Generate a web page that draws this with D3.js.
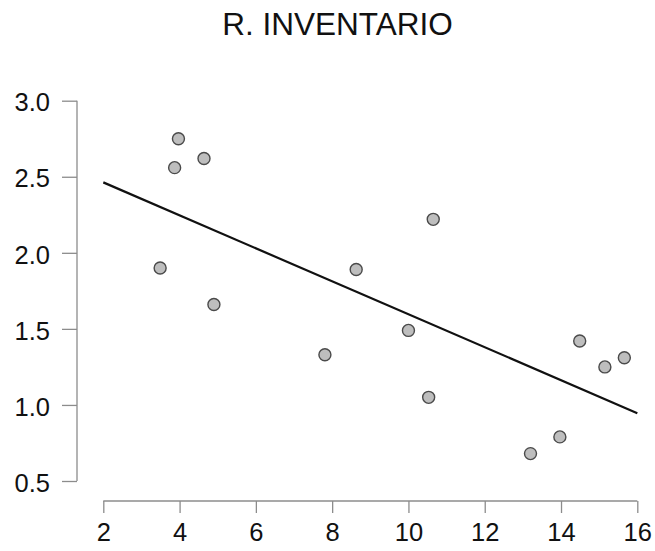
<!DOCTYPE html>
<html>
<head>
<meta charset="utf-8">
<script src="https://cdn.jsdelivr.net/npm/d3@7"></script>
<style>
  html, body { margin: 0; padding: 0; background: #fff; }
  svg { display: block; font-family: "Liberation Sans", Arial, sans-serif; }
</style>
</head>
<body>
<script>
// ---- data ----
const title = "R. INVENTARIO";
const xValues = [3.97, 4.64, 3.87, 3.49, 4.90, 10.65, 8.63, 10.00, 7.81, 10.53, 14.49, 15.66, 15.15, 13.97, 13.20];
const yValues = [2.75, 2.62, 2.56, 1.90, 1.66, 2.22, 1.89, 1.49, 1.33, 1.05, 1.42, 1.31, 1.25, 0.79, 0.68];
const xTicks = [2, 4, 6, 8, 10, 12, 14, 16];
const yTicks = [0.5, 1.0, 1.5, 2.0, 2.5, 3.0];
const fitRange = [2, 16];

const W = 655, H = 551;
const svg = d3.select("body").append("svg").attr("width", W).attr("height", H);

const x = d3.scaleLinear().domain([2, 16]).range([103.3, 637.3]);
const y = d3.scaleLinear().domain([0.5, 3.0]).range([481, 100.7]);

// title
svg.append("text")
  .attr("x", 337.5).attr("y", 35)
  .attr("text-anchor", "middle")
  .attr("font-size", 31.5)
  .attr("fill", "#111")
  .text(title);

// axes
const axisColor = "#8c8c8c";
const yAxis = svg.append("g")
  .attr("transform", "translate(77,0)")
  .call(d3.axisLeft(y).tickValues(yTicks).tickFormat(d3.format(".1f")).tickSize(15).tickPadding(12));
const xAxis = svg.append("g")
  .attr("transform", "translate(0,501)")
  .call(d3.axisBottom(x).tickValues(xTicks).tickFormat(d3.format("d")).tickSize(12).tickPadding(10));

[yAxis, xAxis].forEach(g => {
  g.select(".domain").attr("stroke", axisColor).attr("stroke-width", 1.3);
  g.selectAll(".tick line").attr("stroke", axisColor).attr("stroke-width", 1.3);
  g.selectAll(".tick text").attr("fill", "#111").attr("font-size", 25.5)
    .attr("font-family", "'Liberation Sans', Arial, sans-serif");
});
yAxis.selectAll(".tick text").attr("dy", "0.40em");
xAxis.selectAll(".tick text").attr("dy", "0.71em");
// domain path without outer tick stubs
yAxis.select(".domain").attr("d", `M0,${y(3.0)}V${y(0.5)}`);
xAxis.select(".domain").attr("d", `M${x(2)},0H${x(16)}`);

// least squares fit line
const mx = d3.mean(xValues), my = d3.mean(yValues);
let sxy = 0, sxx = 0;
xValues.forEach((v, i) => { sxy += (v - mx) * (yValues[i] - my); sxx += (v - mx) * (v - mx); });
const slope = sxy / sxx, intercept = my - slope * mx;
svg.append("line")
  .attr("x1", x(fitRange[0])).attr("y1", y(intercept + slope * fitRange[0]))
  .attr("x2", x(fitRange[1])).attr("y2", y(intercept + slope * fitRange[1]))
  .attr("stroke", "#111").attr("stroke-width", 2.2);

// points
svg.append("g").selectAll("circle")
  .data(xValues.map((v, i) => [v, yValues[i]]))
  .join("circle")
  .attr("cx", d => x(d[0])).attr("cy", d => y(d[1]))
  .attr("r", 6)
  .attr("fill", "#bebebe")
  .attr("stroke", "#4a4a4a")
  .attr("stroke-width", 1.4);
</script>
</body>
</html>
